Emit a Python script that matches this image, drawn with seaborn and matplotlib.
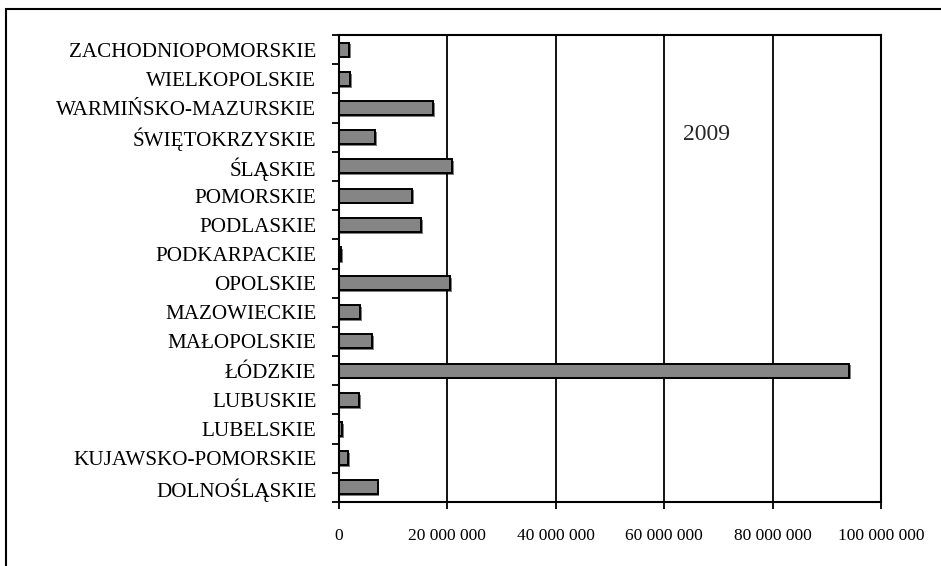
import matplotlib
matplotlib.use("Agg")
import matplotlib.pyplot as plt
import matplotlib.patheffects as pe
from matplotlib.patches import Rectangle
from matplotlib.ticker import FuncFormatter, FixedLocator
import seaborn as sns
import pandas as pd

# voivodeships, top to bottom as shown
regions = [
    "ZACHODNIOPOMORSKIE", "WIELKOPOLSKIE", "WARMIŃSKO-MAZURSKIE", "ŚWIĘTOKRZYSKIE",
    "ŚLĄSKIE", "POMORSKIE", "PODLASKIE", "PODKARPACKIE", "OPOLSKIE", "MAZOWIECKIE",
    "MAŁOPOLSKIE", "ŁÓDZKIE", "LUBUSKIE", "LUBELSKIE", "KUJAWSKO-POMORSKIE", "DOLNOŚLĄSKIE",
]
values_mln = [2.0, 2.2, 17.4, 6.8, 20.9, 13.5, 15.2, 0.5, 20.6, 4.0,
              6.2, 94.0, 3.8, 0.6, 1.8, 7.2]
year_label = "2009"
x_ticks = [0, 20_000_000, 40_000_000, 60_000_000, 80_000_000, 100_000_000]

df = pd.DataFrame({"region": regions, "value": [v * 1e6 for v in values_mln]})

sns.set_style("white")
plt.rcParams["font.family"] = ["Liberation Serif", "DejaVu Serif"]

fig = plt.figure(figsize=(9.41, 5.66), dpi=100)
ax = fig.add_axes([338.5 / 941, 1 - 502 / 566, 543 / 941, 467 / 566])

sns.barplot(data=df, x="value", y="region", orient="h", color="#858585",
            edgecolor="black", linewidth=1.4, width=0.48, saturation=1, ax=ax)

# little drop shadow on bars
for p in ax.patches:
    p.set_path_effects([pe.SimplePatchShadow(offset=(1.3, -1.3), shadow_rgbFace="black", alpha=0.5),
                        pe.Normal()])

ax.set_xlim(0, 100_000_000)
ax.set_ylim(len(regions) - 0.5, -0.5)
ax.set_xticks(x_ticks)
ax.xaxis.set_major_formatter(FuncFormatter(lambda v, _: f"{int(v):,}".replace(",", " ")))
ax.set_xlabel("")
ax.set_ylabel("")

# vertical grid lines
for xv in x_ticks[1:-1]:
    ax.axvline(xv, color="black", lw=1.3, zorder=0)

for s in ax.spines.values():
    s.set_visible(True)
    s.set_color("black")
    s.set_linewidth(1.5)

# y labels at centres, tick marks at category boundaries
ax.tick_params(axis="y", which="major", length=0, pad=16, labelsize=15.2, labelcolor="black")
ax.yaxis.set_minor_locator(FixedLocator([i + 0.5 for i in range(-1, len(regions))]))
ax.tick_params(axis="y", which="minor", left=True, length=5, width=1.3, color="black")
ax.tick_params(axis="x", which="major", bottom=True, length=5, width=1.3, color="black",
               pad=14, labelsize=12.5, labelcolor="black")

ax.text(0.677, 0.786, year_label, transform=ax.transAxes, ha="center", va="center", fontsize=17)

# outer frame
fig.add_artist(Rectangle((5.5 / 941, -0.1), 1.2, 1 - 9 / 566 + 0.1, transform=fig.transFigure,
                         fill=False, lw=1.5, ec="black"))

fig.savefig("out.png", dpi=100)
